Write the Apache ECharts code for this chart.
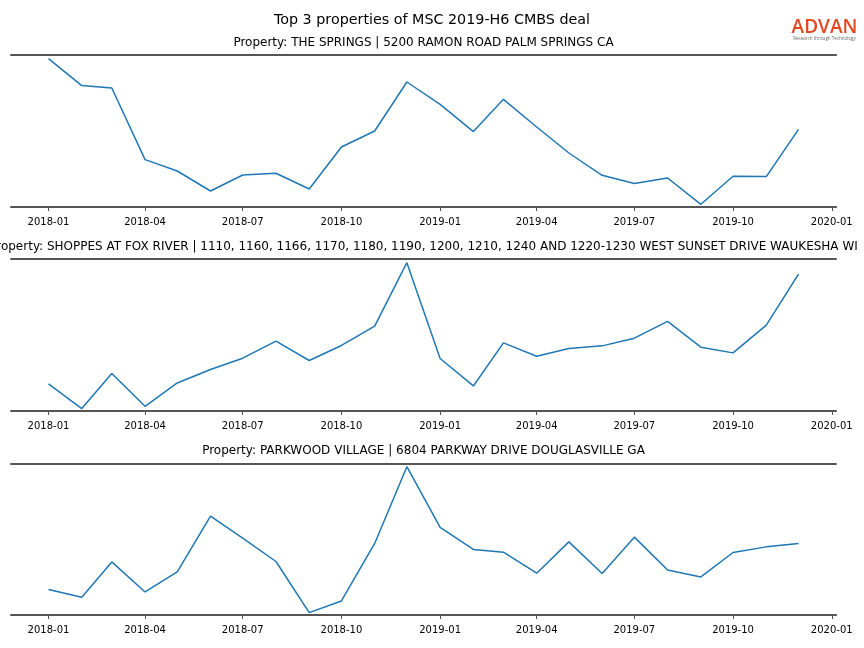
<!DOCTYPE html>
<html>
<head>
<meta charset="utf-8">
<script src="https://cdn.jsdelivr.net/npm/echarts@6/dist/echarts.min.js"></script>
<style>
html,body{margin:0;padding:0;background:#fff;}
#chart{width:864px;height:648px;}
</style>
</head>
<body>
<div id="chart"></div>
<script>
// ---- data ----
const months = ['2018-01','2018-02','2018-03','2018-04','2018-05','2018-06','2018-07','2018-08','2018-09','2018-10','2018-11','2018-12',
                '2019-01','2019-02','2019-03','2019-04','2019-05','2019-06','2019-07','2019-08','2019-09','2019-10','2019-11','2019-12'];
const tickLabels = ['2018-01','2018-04','2018-07','2018-10','2019-01','2019-04','2019-07','2019-10','2020-01'];
const mainTitle = 'Top 3 properties of MSC 2019-H6 CMBS deal';
const propertyTitles = [
  'Property: THE SPRINGS | 5200 RAMON ROAD PALM SPRINGS CA',
  'Property: SHOPPES AT FOX RIVER | 1110, 1160, 1166, 1170, 1180, 1190, 1200, 1210, 1240 AND 1220-1230 WEST SUNSET DRIVE WAUKESHA WI',
  'Property: PARKWOOD VILLAGE | 6804 PARKWAY DRIVE DOUGLASVILLE GA'
];
// relative activity values (arbitrary units)
const springs = [148.4,121.4,119,47.4,36,16,32,33.7,18,60,76,125,102.7,75.4,107.7,80,54,31.7,23.4,29,2.7,30.7,30.4,77.7];
const foxRiver = [27,2.4,37.4,4.7,28,41.4,52.7,69.7,50.4,65.4,84.7,148,52.4,25,68,54.7,62.4,65,72.7,89.4,63.7,58,85.7,136.7];
const parkwood = [25.4,17.7,53,23,43,98.7,76.7,53.4,2.4,14,71.4,148,87.4,65.4,62.7,41.7,73,41.4,77.7,45,38,62.4,68,71.4];
const yRanges = [[0,152],[0,151.7],[0,150.7]];
const seriesValues = [springs, foxRiver, parkwood];

// ---- layout ----
const gridTops = [55, 259, 464];
const gridHeights = [152, 152, 151];
const titleYs = [42.5, 246.5, 450.5];
const gridLeft = 11, gridRight = 28;

const toTs = s => Date.UTC(+s.slice(0,4), +s.slice(5,7)-1, 1);
const t0 = toTs(months[0]), t1 = toTs(months[months.length-1]);
const pad = (t1 - t0) * 0.05;
const xMin = t0 - pad, xMax = t1 + pad;
const tickValues = tickLabels.map(toTs);
const FONT = 'DejaVu Sans';
const fmt = v => { const d = new Date(v); return d.getUTCFullYear() + '-' + String(d.getUTCMonth()+1).padStart(2,'0'); };

const grids = [], xAxes = [], yAxes = [], series = [], graphics = [];
seriesValues.forEach((vals, i) => {
  grids.push({left: gridLeft, right: gridRight, top: gridTops[i], height: gridHeights[i]});
  xAxes.push({
    type: 'value', gridIndex: i, min: xMin, max: xMax, position: 'bottom',
    axisLine: {show: true, onZero: false, lineStyle: {color: '#555', width: 2}},
    axisTick: {show: true, customValues: tickValues, length: 4, lineStyle: {color: '#555', width: 1}},
    axisLabel: {show: true, customValues: tickValues, fontFamily: FONT, fontSize: 10, color: '#000', margin: 10,
      formatter: fmt, hideOverlap: false, showMinLabel: true, showMaxLabel: true},
    splitLine: {show: false}
  });
  xAxes.push({
    type: 'value', gridIndex: i, min: xMin, max: xMax, position: 'top',
    axisLine: {show: true, onZero: false, lineStyle: {color: '#555', width: 2}},
    axisTick: {show: false}, axisLabel: {show: false}, splitLine: {show: false}
  });
  yAxes.push({
    type: 'value', gridIndex: i, min: yRanges[i][0], max: yRanges[i][1],
    axisLine: {show: false}, axisTick: {show: false}, axisLabel: {show: false}, splitLine: {show: false}
  });
  series.push({
    type: 'line', xAxisIndex: i*2, yAxisIndex: i, showSymbol: false, symbol: 'none',
    lineStyle: {color: '#1f77b4', width: 1.5}, animation: false,
    data: months.map((m, k) => [toTs(m), vals[k]])
  });
  graphics.push({type: 'text', x: gridLeft + (864 - gridLeft - gridRight)/2, y: titleYs[i],
    style: {text: propertyTitles[i], font: '12px "' + FONT + '"', fill: '#000', textAlign: 'center', textVerticalAlign: 'middle'}});
});

graphics.push({type: 'text', x: 432, y: 20,
  style: {text: mainTitle, font: '14.3px "' + FONT + '"', fill: '#000', textAlign: 'center', textVerticalAlign: 'middle'}});
graphics.push({type: 'text', x: 824.5, y: 28,
  style: {text: 'ADVAN', font: '600 19px "Open Sans"', fill: '#e4481e', textAlign: 'center', textVerticalAlign: 'middle'}});
graphics.push({type: 'text', x: 824.5, y: 38.5,
  style: {text: 'Research through Technology', font: '4.5px "Open Sans"', fill: '#666', textAlign: 'center', textVerticalAlign: 'middle'}});

const chart = echarts.init(document.getElementById('chart'), null, {renderer: 'canvas'});
chart.setOption({
  animation: false,
  backgroundColor: '#fff',
  grid: grids, xAxis: xAxes, yAxis: yAxes, series: series, graphic: graphics
});
</script>
</body>
</html>
